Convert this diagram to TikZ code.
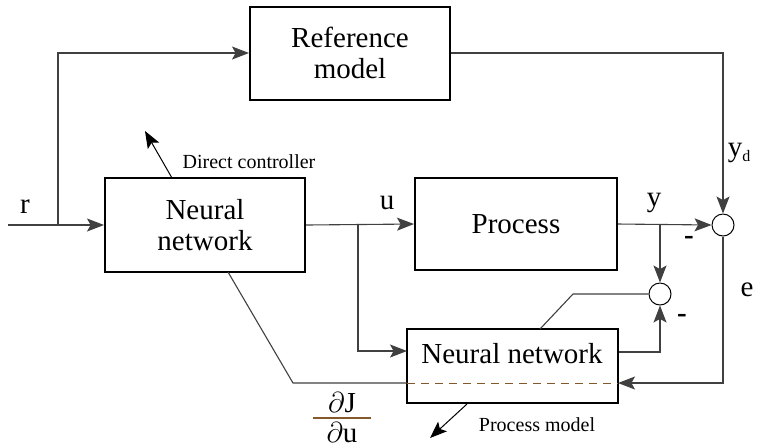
\documentclass[tikz,border=0pt]{standalone}
\usepackage{fontspec}
\setmainfont{Liberation Serif}
\usetikzlibrary{arrows.meta,calc}

\tikzset{
  blk/.style={draw,line width=1pt,inner sep=0pt,font=\fontsize{14.5}{15.5}\selectfont,align=center},
  sumc/.style={draw,circle,line width=0.5pt,minimum size=11pt,inner sep=0pt},
  conn/.style={draw=black!75,line width=0.55pt},
  arr/.style={-{Stealth[length=8.5pt,width=6.5pt,inset=1.8pt]}},
  lbl/.style={font=\fontsize{14.5}{15.5}\selectfont,inner sep=0pt},
  note/.style={font=\fontsize{10}{12}\selectfont,inner sep=0pt}
}

\begin{document}
\begin{tikzpicture}[x=0.5pt,y=-0.5pt]
    \useasboundingbox (0,0) rectangle (764,447);
    % blocks
    \node[blk,minimum width=100pt,minimum height=46.5pt] (refm) at (350,53) {Reference\\model};
    \node[blk,minimum width=100pt,minimum height=47pt] (nnc) at (205,225) {Neural\\network};
    \node[blk,minimum width=101pt,minimum height=46pt] (proc) at (516,224) {Process};
    \node[blk,minimum width=105.5pt,minimum height=37pt] (nnp) at (512.5,366) {};
    \node[lbl] (nnptxt) at (512,354) {Neural network};
    \node[sumc] (sum1) at (723,225) {};
    \node[sumc] (sum2) at (660,294) {};
    % branch points and free ends
    \coordinate (rin) at (8,225);
    \coordinate (br1) at (58,225);
    \coordinate (br2) at (358,225);
    \coordinate (br3) at (660,225);
    \coordinate (nnpin) at (407,351);
    \coordinate (nnpe) at (618,383);
    \coordinate (nnpo) at (619,352);
    \coordinate (kink1) at (573,294);
    \coordinate (nnptop) at (540,329);
    \coordinate (nncbot) at (228,272);
    \coordinate (kink2) at (293,383);
    \coordinate (nnpw) at (407,383);
    \coordinate (dc1) at (172,178);
    \coordinate (dc2) at (145,131);
    \coordinate (pm1) at (467,404);
    \coordinate (pm2) at (430,438);
    % connectors
    \draw[conn,arr] (rin) -- (nnc.west);
    \draw[conn,arr] (br1) |- (refm.west);
    \draw[conn,arr] (refm.east) -| (sum1.north);
    \draw[conn,arr] (nnc.east) -- (proc.west);
    \draw[conn,arr] (br2) |- (nnpin);
    \draw[conn,arr] (proc.east) -- (sum1.west);
    \draw[conn,arr] (br3) -- (sum2.north);
    \draw[conn,arr] (sum1.south) |- (nnpe);
    \draw[conn,arr] (nnpo) -| (sum2.south);
    \draw[conn] (sum2.west) -- (kink1) -- (nnptop);
    \draw[conn] (nncbot) -- (kink2) -- (nnpw);
    \draw[draw=brown!70!black,line width=0.5pt,dash pattern=on 4pt off 3pt] (nnpw) -- (nnpe);
    \draw[line width=0.5pt,arr] (dc1) -- (dc2);
    \draw[line width=0.5pt,arr] (pm1) -- (pm2);
    % labels
    \node[lbl] (rlbl) at (25,207) {r};
    \node[lbl] (ulbl) at (387,203) {u};
    \node[lbl] (ylbl) at (654,203) {y};
    \node[lbl] (ydlbl) at (739,153) {y\raisebox{-0.4ex}{\fontsize{8}{9}\selectfont d}};
    \node[lbl] (elbl) at (747,290) {e};
    \node[lbl] (m1lbl) at (689,240) {\textbf{-}};
    \node[lbl] (m2lbl) at (682,318) {\textbf{-}};
    \node[note] (dclbl) at (249,162) {Direct controller};
    \node[note] (pmlbl) at (537,425) {Process model};
    \node[lbl] (dJ) at (342,403) {$\partial$J};
    \node[lbl] (du) at (342,433) {$\partial$u};
    \draw[draw=brown!70!black,line width=0.7pt] (313,418) -- (371,418);
\end{tikzpicture}
\end{document}
